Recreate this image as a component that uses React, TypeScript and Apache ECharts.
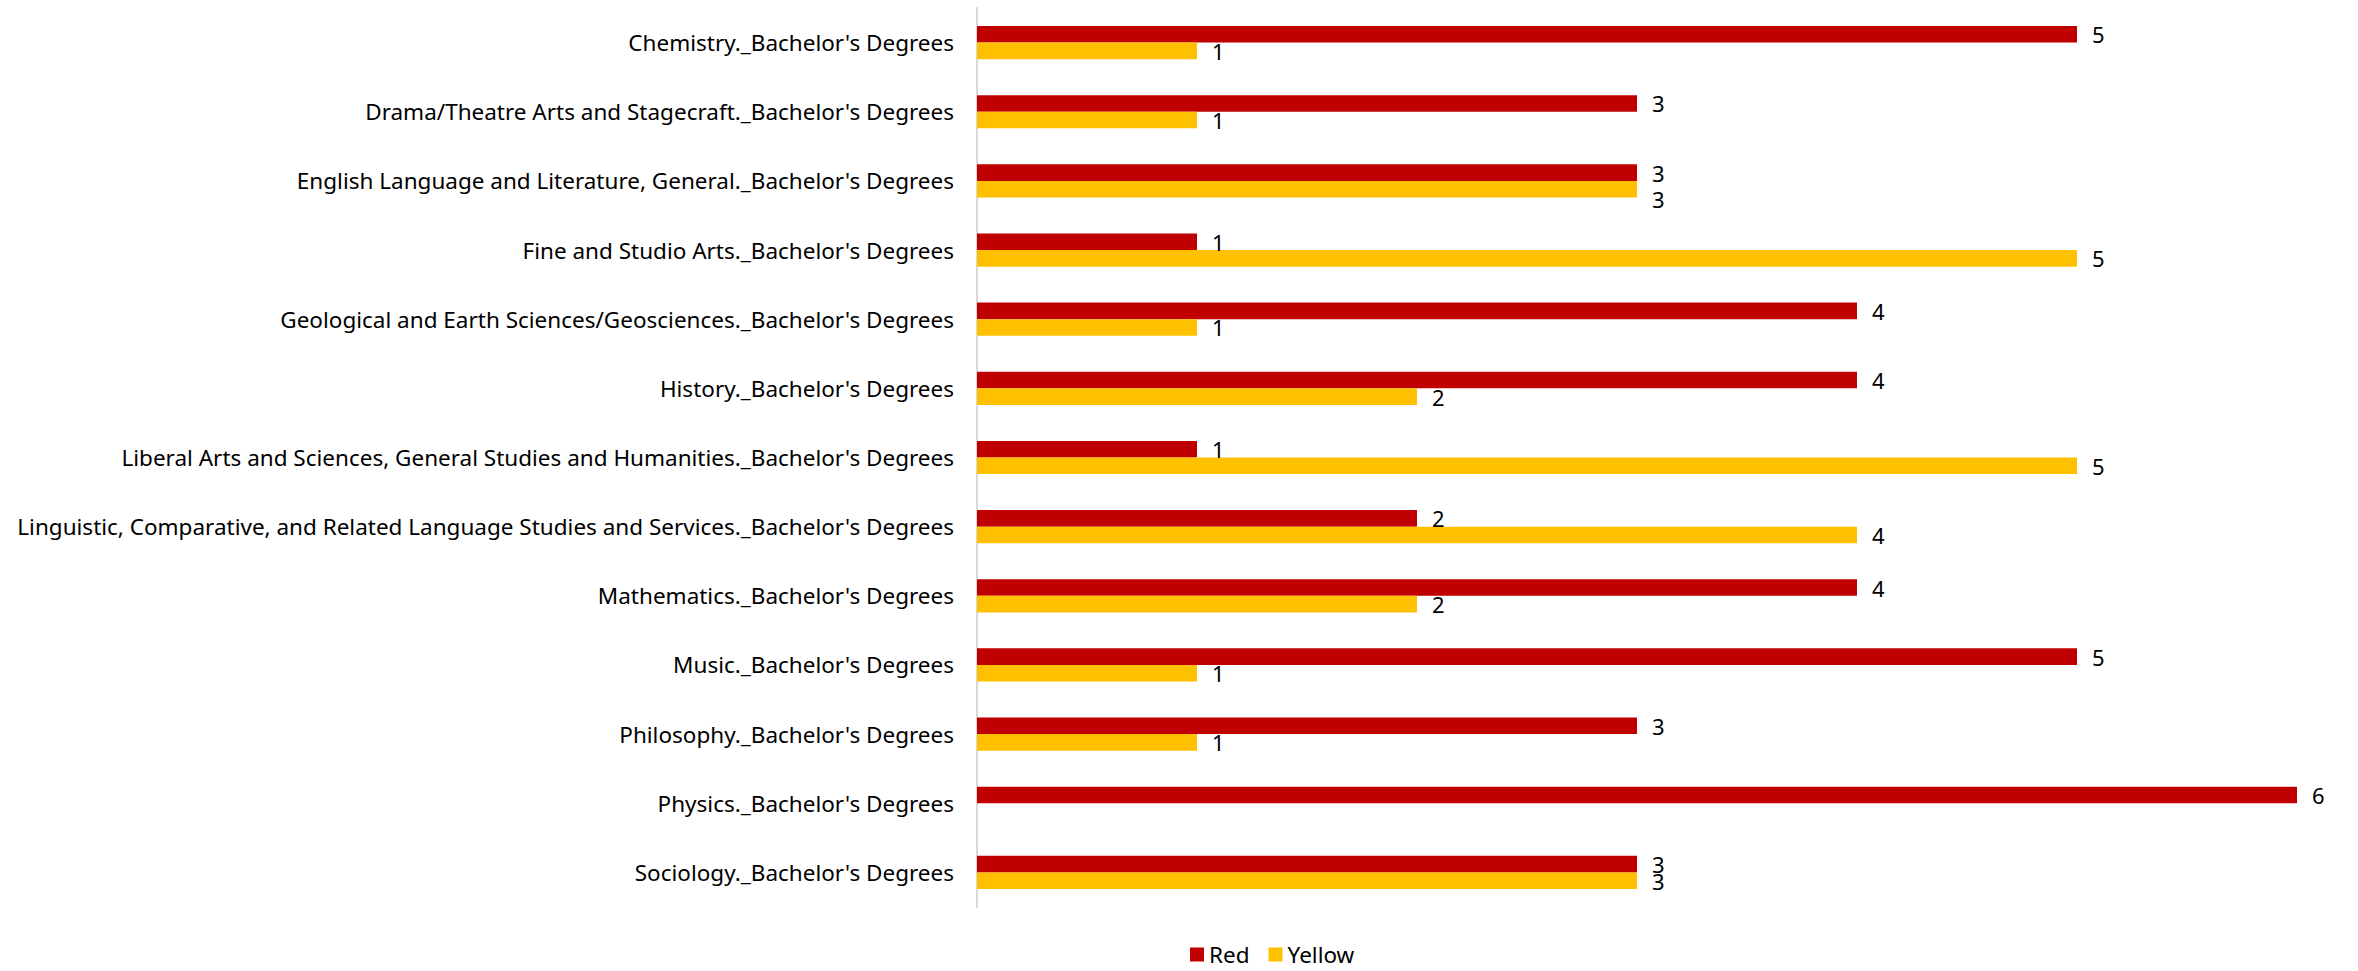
import React, { useEffect, useRef } from "react";
import * as echarts from "echarts";

// Programmes listed top to bottom
const categories: string[] = [
  "Chemistry._Bachelor's Degrees",
  "Drama/Theatre Arts and Stagecraft._Bachelor's Degrees",
  "English Language and Literature, General._Bachelor's Degrees",
  "Fine and Studio Arts._Bachelor's Degrees",
  "Geological and Earth Sciences/Geosciences._Bachelor's Degrees",
  "History._Bachelor's Degrees",
  "Liberal Arts and Sciences, General Studies and Humanities._Bachelor's Degrees",
  "Linguistic, Comparative, and Related Language Studies and Services._Bachelor's Degrees",
  "Mathematics._Bachelor's Degrees",
  "Music._Bachelor's Degrees",
  "Philosophy._Bachelor's Degrees",
  "Physics._Bachelor's Degrees",
  "Sociology._Bachelor's Degrees",
];

const redValues: (number | null)[] = [5, 3, 3, 1, 4, 4, 1, 2, 4, 5, 3, 6, 3];
const yellowValues: (number | null)[] = [1, 1, 3, 5, 1, 2, 5, 4, 2, 1, 1, null, 3];

const FONT = "'Noto Sans', sans-serif";
const RED = "#C00000";
const YELLOW = "#FFC000";

export default function App() {
  const ref = useRef<HTMLDivElement>(null);

  useEffect(() => {
    if (!ref.current) return;
    const chart = echarts.init(ref.current, undefined, { renderer: "svg" });
    const label = {
      show: true,
      position: "right" as const,
      distance: 15,
      color: "#000000",
      fontSize: 22,
      lineHeight: 16,
      fontFamily: FONT,
    };
    // the English yellow label sits a little below its bar
    const yellowData = yellowValues.map((v, i) =>
      i === 2 ? { value: v, label: { offset: [0, 10] } } : v
    );
    chart.setOption({
      animation: false,
      backgroundColor: "#ffffff",
      textStyle: { fontFamily: FONT },
      grid: { left: 977, width: 1320, top: 8, height: 899 },
      legend: {
        top: 943,
        left: 1190,
        itemWidth: 14,
        itemHeight: 14,
        itemGap: 19,
        padding: 0,
        icon: "rect",
        textStyle: {
          color: "#000000",
          fontSize: 22.5,
          lineHeight: 22,
          fontFamily: FONT,
        },
        data: ["Red", "Yellow"],
      },
      xAxis: {
        type: "value",
        min: 0,
        max: 6,
        show: false,
        splitLine: { show: false },
      },
      yAxis: {
        type: "category",
        inverse: true,
        data: categories,
        axisLine: { show: true, lineStyle: { color: "#D9D9D9", width: 2 } },
        axisTick: { show: false },
        axisLabel: {
          color: "#000000",
          fontSize: 22.5,
          fontFamily: FONT,
          margin: 23,
        },
      },
      series: [
        {
          name: "Red",
          type: "bar",
          data: redValues,
          itemStyle: { color: RED },
          barGap: "0%",
          barCategoryGap: "52%",
          label,
        },
        {
          name: "Yellow",
          type: "bar",
          data: yellowData,
          itemStyle: { color: YELLOW },
          barGap: "0%",
          barCategoryGap: "52%",
          label,
        },
      ],
    });
    return () => chart.dispose();
  }, []);

  return (
    <div
      ref={ref}
      style={{ position: "fixed", left: 0, top: 0, width: 2358, height: 971 }}
    />
  );
}
